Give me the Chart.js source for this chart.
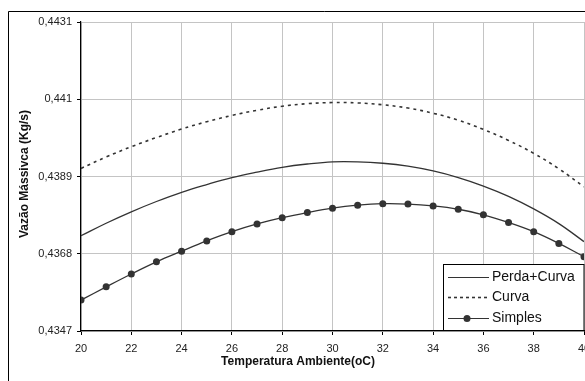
<!DOCTYPE html>
<html>
<head>
<meta charset="utf-8">
<script src="https://cdn.jsdelivr.net/npm/chart.js@4/dist/chart.umd.min.js"></script>
<style>
  html, body { margin: 0; padding: 0; background: #fff; overflow: hidden; }
  #wrap { position: relative; width: 640px; height: 381px; }
</style>
</head>
<body>
<div id="wrap"><canvas id="chart" width="640" height="381"></canvas></div>
<script>
// ===== Data =====
const TEMPS = [20, 21, 22, 23, 24, 25, 26, 27, 28, 29, 30, 31, 32, 33, 34, 35, 36, 37, 38, 39, 40];
const PERDA_CURVA = [0.43729, 0.43763, 0.43794, 0.43822, 0.43847, 0.43868, 0.43887, 0.43902, 0.43915, 0.43924, 0.43930,
                     0.43930, 0.43926, 0.43918, 0.43905, 0.43887, 0.43864, 0.43836, 0.43802, 0.43762, 0.43713];
const CURVA = [0.43912, 0.43943, 0.43971, 0.43996, 0.44019, 0.44039, 0.44056, 0.44070, 0.44081, 0.44088, 0.44091,
               0.44090, 0.44085, 0.44076, 0.44062, 0.44043, 0.44018, 0.43988, 0.43953, 0.43911, 0.43862];
const SIMPLES = [0.43554, 0.43590, 0.43625, 0.43658, 0.43687, 0.43715, 0.43740, 0.43761, 0.43778, 0.43792, 0.43804,
                 0.43812, 0.43816, 0.43815, 0.43810, 0.43801, 0.43786, 0.43765, 0.43740, 0.43708, 0.43672];
const X_TICKS = [20, 22, 24, 26, 28, 30, 32, 34, 36, 38, 40];
const Y_TICKS = [0.4347, 0.4368, 0.4389, 0.4410, 0.4431];
const SERIES_NAMES = ['Perda+Curva', 'Curva', 'Simples'];

const INK = '#333';
const FONT = '"Liberation Sans", Arial, sans-serif';

const pts = vals => TEMPS.map((t, i) => ({ x: t, y: vals[i] }));
const fmtComma = v => String(+v.toFixed(4)).replace('.', ',');

// frame, axis titles and the legend box
const decor = {
  id: 'decor',
  beforeDraw(chart) {
    const c = chart.ctx;
    c.save();
    c.strokeStyle = '#000';
    c.lineWidth = 1;
    c.beginPath();
    c.moveTo(8.5, 400); c.lineTo(8.5, 11.5); c.lineTo(640, 11.5);
    c.stroke();
    c.restore();
  },
  afterDraw(chart) {
    const c = chart.ctx;
    c.save();
    c.fillStyle = '#111';
    c.font = 'bold 12px ' + FONT;
    c.textAlign = 'center';
    c.textBaseline = 'middle';
    c.fillText('Temperatura Ambiente(oC)', 298, 362);
    c.translate(25, 174);
    c.rotate(-Math.PI / 2);
    c.fillText('Vazão Mássivca (Kg/s)', 0, 0);
    c.restore();

    // legend
    c.save();
    c.fillStyle = '#fff';
    c.fillRect(443, 264, 141, 67);
    c.strokeStyle = '#000';
    c.lineWidth = 1;
    c.strokeRect(443.5, 264.5, 140.5, 66);
    const rows = [277, 297, 318];
    c.font = '14px ' + FONT;
    c.textAlign = 'left';
    c.textBaseline = 'middle';
    SERIES_NAMES.forEach((name, i) => {
      const y = rows[i] + 0.5;
      c.strokeStyle = INK;
      c.lineWidth = i === 1 ? 1.6 : 1.2;
      c.setLineDash(i === 1 ? [3, 3] : []);
      c.beginPath(); c.moveTo(448, y); c.lineTo(489, y); c.stroke();
      c.setLineDash([]);
      if (i === 2) {
        c.fillStyle = INK;
        c.beginPath(); c.arc(467, y, 3.5, 0, Math.PI * 2); c.fill();
      }
      c.fillStyle = '#111';
      c.fillText(name, 492, y);
    });
    c.restore();
  }
};

new Chart(document.getElementById('chart'), {
  type: 'line',
  data: {
    datasets: [
      { label: SERIES_NAMES[0], data: pts(PERDA_CURVA), borderColor: INK, borderWidth: 1.3, pointRadius: 0, tension: 0.4 },
      { label: SERIES_NAMES[1], data: pts(CURVA), borderColor: INK, borderWidth: 1.6, borderDash: [3, 4], pointRadius: 0, tension: 0.4 },
      { label: SERIES_NAMES[2], data: pts(SIMPLES), borderColor: INK, borderWidth: 1.3, pointRadius: 3.5,
        pointBackgroundColor: INK, pointBorderColor: INK, pointBorderWidth: 0, tension: 0.4 }
    ]
  },
  options: {
    responsive: false,
    animation: false,
    events: [],
    layout: { padding: { top: 22, left: 0, right: 56, bottom: 0 } },
    plugins: { legend: { display: false }, tooltip: { enabled: false } },
    scales: {
      x: {
        type: 'linear', min: 20, max: 40,
        afterBuildTicks: s => { s.ticks = X_TICKS.map(v => ({ value: v })); },
        afterFit: s => { s.height = 50; },
        grid: { color: '#c4c4c4', lineWidth: 1, tickColor: '#000', tickLength: 4 },
        border: { color: '#000', width: 1.2 },
        ticks: { padding: 7, color: '#222', font: { family: FONT, size: 11 } }
      },
      y: {
        min: 0.4347, max: 0.4431,
        afterBuildTicks: s => { s.ticks = Y_TICKS.map(v => ({ value: v })); },
        afterFit: s => { s.width = 81; },
        grid: { color: '#c4c4c4', lineWidth: 1, tickColor: '#000', tickLength: 4 },
        border: { color: '#000', width: 1.2 },
        ticks: { padding: 5, color: '#222', font: { family: FONT, size: 11 }, callback: v => fmtComma(v) }
      }
    }
  },
  plugins: [decor]
});
</script>
</body>
</html>
